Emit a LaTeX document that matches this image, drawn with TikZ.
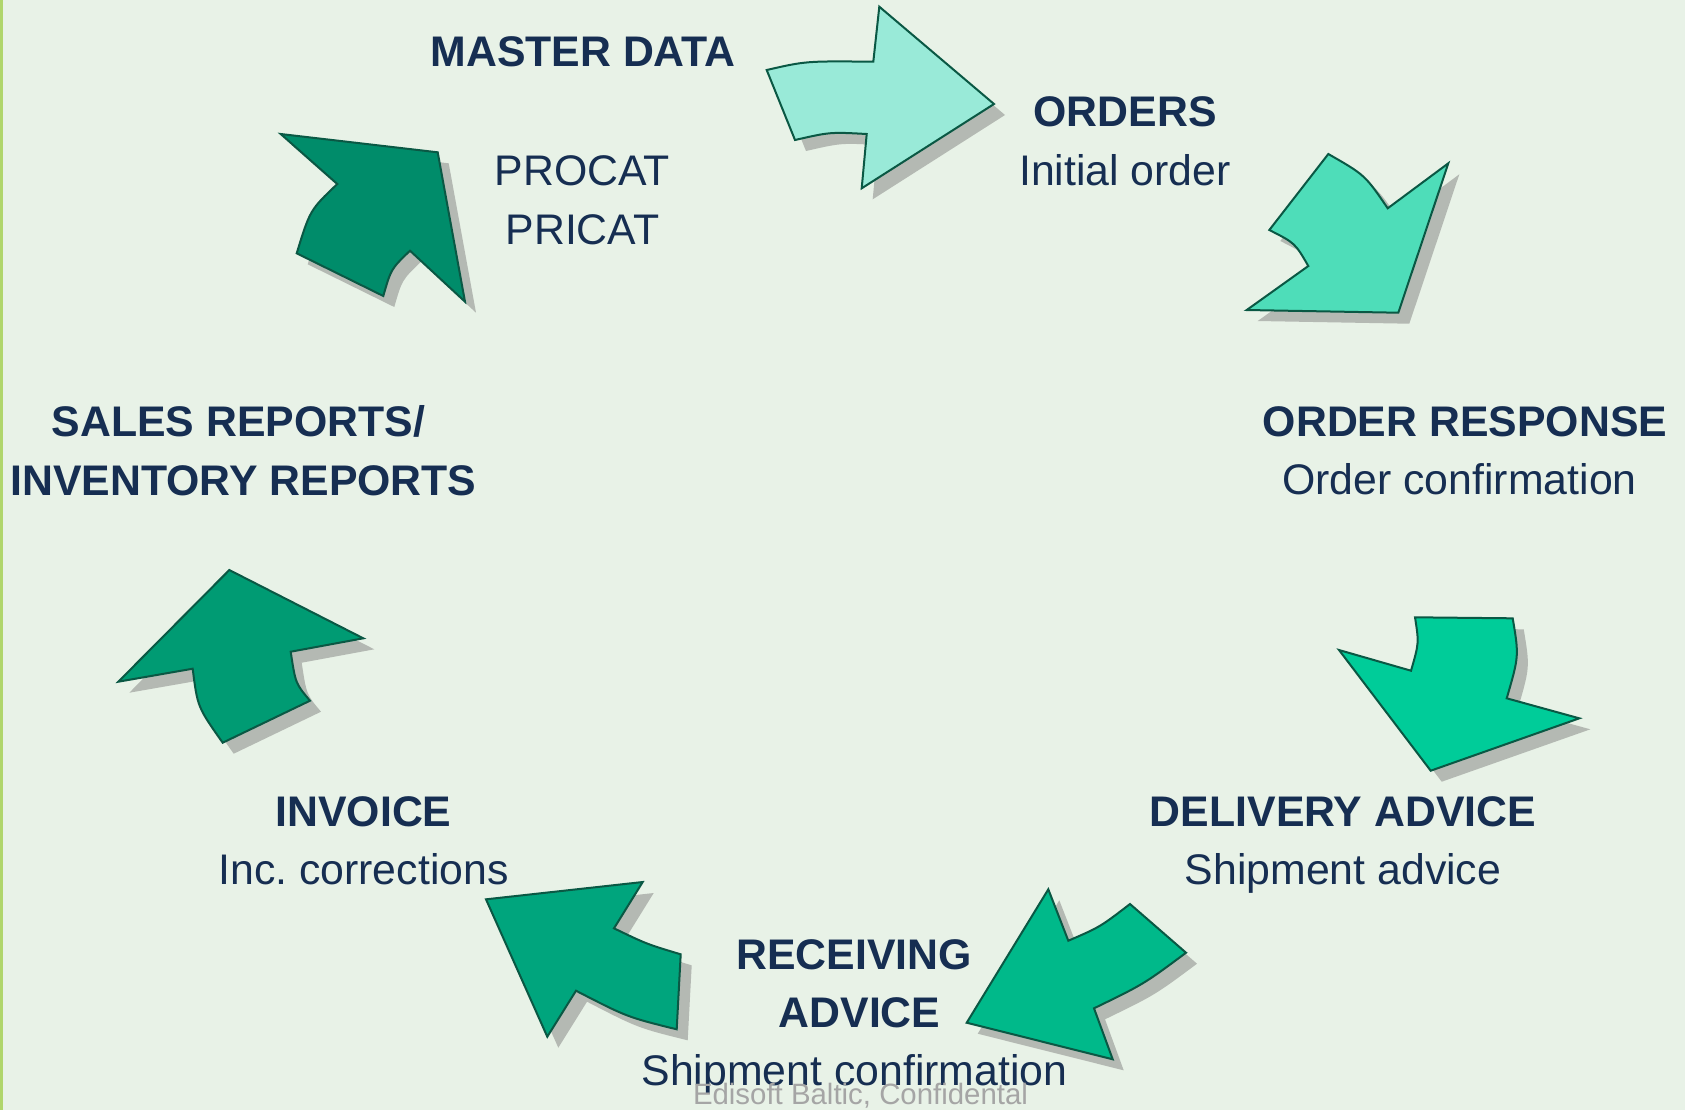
\documentclass[tikz,border=0pt]{standalone}
\usepackage{fontspec}
\setmainfont{Liberation Sans}
\frenchspacing
\definecolor{bg}{RGB}{232,242,231}
\definecolor{rim}{RGB}{176,214,108}
\definecolor{ink}{RGB}{22,46,82}
\definecolor{edge}{RGB}{10,88,68}
\definecolor{shade}{RGB}{180,185,179}
\definecolor{footgray}{RGB}{165,165,165}
\definecolor{cA}{RGB}{153,234,216}
\definecolor{cB}{RGB}{78,221,185}
\definecolor{cC}{RGB}{0,204,153}
\definecolor{cD}{RGB}{0,185,138}
\definecolor{cE}{RGB}{0,165,125}
\definecolor{cF}{RGB}{0,155,115}
\definecolor{cG}{RGB}{0,140,106}
\tikzset{
  bent arrow/.style={fill=#1, draw=edge, line width=1pt, line join=miter,
    preaction={fill=shade, transform canvas={shift={(11,11)}}}},
  title/.style={anchor=base, inner sep=0pt, text=ink,
    font=\bfseries\fontsize{21.4}{26}\selectfont},
  detail/.style={anchor=base, inner sep=0pt, text=ink,
    font=\fontsize{21.4}{26}\selectfont},
  footer/.style={anchor=base, inner sep=0pt, text=footgray,
    font=\fontsize{14.7}{18}\selectfont}
}
\begin{document}
\begin{tikzpicture}[x=0.5pt, y=-0.5pt]
\useasboundingbox (0,0) rectangle (1685,1110);
\fill[bg] (0,0) rectangle (1685,1110);
\fill[rim] (0,0) rectangle (3,1110);

% cycle of bent arrows, clockwise from the top
\path[bent arrow=cA] (766.7,70) .. controls (806,61) .. (873.3,61.7) -- (879.3,6.7)
  -- (994,104) -- (861.7,188.3) -- (866.7,134) .. controls (830,132) .. (795,140) -- cycle;
\path[bent arrow=cB] (1328.3,154) .. controls (1365,175) .. (1387.7,208.3) -- (1448.3,163.3)
  -- (1398.3,312.7) -- (1246.7,310) -- (1308.3,266) .. controls (1295,243) .. (1269.3,230) -- cycle;
\path[bent arrow=cC] (1415,617.3) -- (1512.7,618.3) .. controls (1519,656) .. (1506.7,698.3)
  -- (1579.3,718.3) -- (1430.7,770.7) -- (1339,650) -- (1411,670.7) .. controls (1419,643) .. (1415,617.3) -- cycle;
\path[bent arrow=cD] (1048.3,889.3) -- (1068.3,940.7) .. controls (1100,927) .. (1130,904)
  -- (1186,952.7) .. controls (1144,984) .. (1094,1008.3) -- (1112.7,1059.3) -- (966.7,1022.7) -- cycle;
\path[bent arrow=cE] (486,899.3) -- (642.7,882) -- (614,928.3) .. controls (646.5,944) .. (680.7,954.3)
  -- (676.7,1029.3) .. controls (627,1017) .. (576,990.7) -- (547.3,1036.7) -- cycle;
\path[bent arrow=cF] (229.3,570) -- (363.3,638.3) -- (290.7,651.7) .. controls (295.5,683.5) .. (310,700.7)
  -- (222.7,742.7) .. controls (197.5,707) .. (192.7,668.7) -- (118.3,681.7) -- cycle;
\path[bent arrow=cG] (280.7,134) -- (437.7,152.3) -- (465,301.7) -- (410,250.7) .. controls (391,269) .. (383.3,296)
  -- (296.7,253.3) .. controls (310,210) .. (337.3,184) -- cycle;

% labels
\node[title]  (master)  at (583,66.7)   {MASTER DATA};
\node[detail] (procat)  at (582.5,185.7) {PROCAT};
\node[detail] (pricat)  at (582.5,244)   {PRICAT};
\node[title]  (orders)  at (1125,126.7) {ORDERS};
\node[detail] (initial) at (1125,185)   {Initial order};
\node[title]  (ordresp) at (1465,436.7) {ORDER RESPONSE};
\node[detail] (ordconf) at (1459.5,494) {Order confirmation};
\node[title]  (delivery) at (1343,826)  {DELIVERY ADVICE};
\node[detail] (shipadv) at (1343,884)   {Shipment advice};
\node[title]  (receiving) at (854,969)  {RECEIVING};
\node[title]  (recadvice) at (859.5,1027) {ADVICE};
\node[detail] (shipconf) at (854.5,1085) {Shipment confirmation};
\node[title]  (invoice) at (363.5,826)  {INVOICE};
\node[detail] (corr)    at (363.5,884)  {Inc. corrections};
\node[title]  (sales)   at (238.5,436.7) {SALES REPORTS/};
\node[title]  (invent)  at (243.5,495)  {INVENTORY REPORTS};
\node[footer] (foot)    at (860.5,1104) {Edisoft Baltic, Confidental};
\end{tikzpicture}
\end{document}
